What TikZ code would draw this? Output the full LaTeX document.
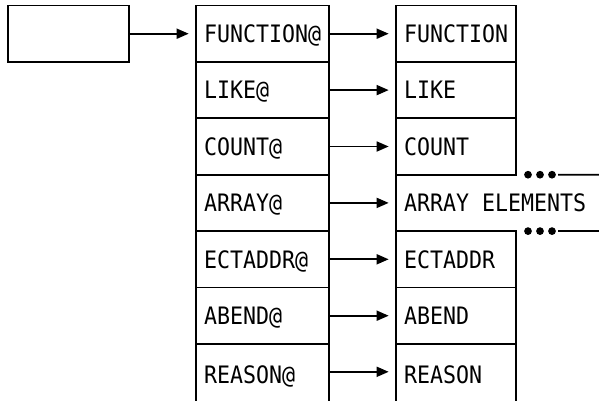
\documentclass[tikz,border=0pt]{standalone}
\usepackage{fontspec}
\newfontfamily\cellfont[FakeStretch=0.9]{DejaVu Sans Mono}
\usetikzlibrary{arrows.meta}

\tikzset{
  cell/.style={draw, line width=1.3pt, anchor=north west, outer sep=0pt, inner xsep=6pt, inner ysep=0pt,
    minimum height=42.3pt, align=left, text height=13.1pt, text depth=0pt,
    font=\cellfont\fontsize{18}{18}\selectfont},
  namecell/.style={cell, text width=87.75pt, minimum width=99.75pt},
  valcell/.style={cell, text width=78pt, minimum width=90pt},
  lastrow/.style={minimum height=46pt},
  link/.style={line width=1.3pt, -{Triangle[length=9pt,width=7.5pt]}, shorten >=5.5pt},
  dot/.style={fill=black}
}

\begin{document}
\begin{tikzpicture}[x=0.75pt,y=0.75pt,yscale=-1,xscale=1]
\useasboundingbox (0,0) rectangle (599,400);
\clip (0,0) rectangle (599,400);

%Shape: Rectangle [start]
\node[cell, text width=78.75pt, minimum width=90.75pt] (start) at (8,5.5) {};

%Left column
\node[namecell] (fun1) at (196,5.5) {FUNCTION@};
\node[namecell] (like1) at (196,61.9) {LIKE@};
\node[namecell] (count1) at (196,118.3) {COUNT@};
\node[namecell] (array1) at (196,174.7) {ARRAY@};
\node[namecell] (ect1) at (196,231.1) {ECTADDR@};
\node[namecell] (abend1) at (196,287.5) {ABEND@};
\node[namecell, lastrow] (reason1) at (196,343.9) {REASON@};

%Right column
\node[valcell] (fun2) at (396,5.5) {FUNCTION};
\node[valcell] (like2) at (396,61.9) {LIKE};
\node[valcell] (count2) at (396,118.3) {COUNT};
\node[valcell, draw=none, text width=180pt] (array2) at (396,174.7) {ARRAY\hspace{9.75pt}ELEMENTS};
\node[valcell] (ect2) at (396,231.1) {ECTADDR};
\node[valcell] (abend2) at (396,287.5) {ABEND};
\node[valcell, lastrow] (reason2) at (396,343.9) {REASON};

%Open row edge
\draw[line width=1.3pt] (array2.north west) -- (array2.south west);

%Continuation marks
\coordinate (tailA) at (599,174.7);
\coordinate (tailB) at (599,231.1);
\fill[dot] ([xshift=9pt]count2.south east) circle (2.9pt);
\fill[dot] ([xshift=18pt]count2.south east) circle (2.9pt);
\fill[dot] ([xshift=27pt]count2.south east) circle (2.9pt);
\draw[line width=1.3pt] ([xshift=31.5pt]count2.south east) -- (tailA);
\fill[dot] ([xshift=9pt]ect2.north east) circle (2.9pt);
\fill[dot] ([xshift=18pt]ect2.north east) circle (2.9pt);
\fill[dot] ([xshift=27pt]ect2.north east) circle (2.9pt);
\draw[line width=1.3pt] ([xshift=31.5pt]ect2.north east) -- (tailB);

%Arrows
\draw[link] (start.east) -- (fun1.west);
\draw[link] (fun1.east) -- (fun2.west);
\draw[link] (like1.east) -- (like2.west);
\draw[link] (count1.east) -- (count2.west);
\draw[link] (array1.east) -- (array2.west);
\draw[link] (ect1.east) -- (ect2.west);
\draw[link] (abend1.east) -- (abend2.west);
\draw[link] (reason1.east |- 0,371.8) -- (reason2.west |- 0,371.8);

\end{tikzpicture}
\end{document}
